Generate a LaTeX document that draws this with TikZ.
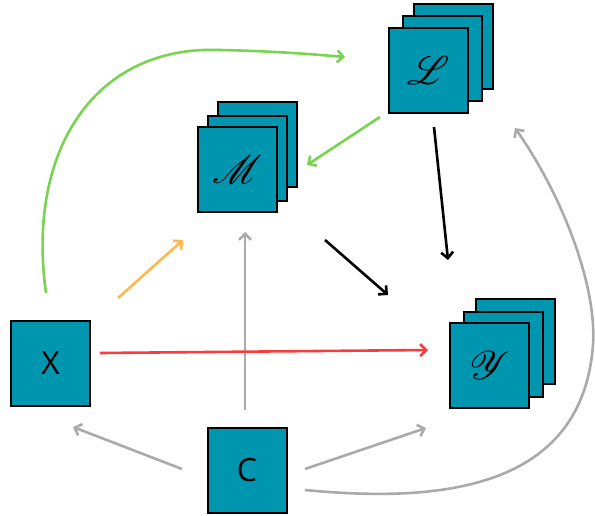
\documentclass[tikz,border=0pt]{standalone}
\usepackage{fontspec}
\setmainfont{Open Sans}
\usepackage{mathrsfs}
\usepackage{graphicx}
\usetikzlibrary{arrows.meta}
\definecolor{boxteal}{RGB}{0,150,176}
\definecolor{cgreen}{RGB}{120,212,80}
\definecolor{corange}{RGB}{255,184,80}
\definecolor{cred}{RGB}{250,60,60}
\definecolor{cgray}{RGB}{170,170,170}
\tikzset{
  sbox/.style={draw=black, line width=2pt, fill=boxteal, minimum width=79pt, minimum height=85pt, inner sep=0pt, font=\fontsize{32}{32}\selectfont},
  conn/.style={line width=2.6pt, -{Straight Barb[length=6pt,width=12pt]}},
}
\newcommand{\bigscr}[1]{\scalebox{1.6}{$\mathscr{#1}$}}
\begin{document}
\begin{tikzpicture}[x=1pt,y=-1pt]
\useasboundingbox (0,0) rectangle (595,516);
% L stack
\node[sbox] (L3) at (453,47) {};
\node[sbox] (L2) at (442,58.5) {};
\node[sbox] (L1) at (428,70.5) {\bigscr{L}};
% M stack
\node[sbox] (M3) at (257,144.5) {};
\node[sbox] (M2) at (247,158.5) {};
\node[sbox] (M1) at (237,169.5) {\bigscr{M}};
% Y stack
\node[sbox] (Y3) at (515,341.5) {};
\node[sbox] (Y2) at (503.5,354) {};
\node[sbox] (Y1) at (489.5,365.5) {\bigscr{Y}};
% X and C
\node[sbox] (X) at (50.5,363.5) {X};
\node[sbox] (C) at (247,470.5) {C};
% connector end points
\coordinate (xg) at (46,293);
\coordinate (lg) at (345,57);
\coordinate (lm1) at (380,117);
\coordinate (lm2) at (307,165);
\coordinate (xo) at (118,298);
\coordinate (mo) at (183,240);
\coordinate (cv1) at (245,410);
\coordinate (cv2) at (245,232);
\coordinate (my1) at (325,240);
\coordinate (my2) at (388,295);
\coordinate (ly1) at (434,127);
\coordinate (ly2) at (448,260);
\coordinate (xr) at (100,353);
\coordinate (yr) at (428,350);
\coordinate (cx1) at (182,469);
\coordinate (cx2) at (73,427);
\coordinate (cy1) at (305,469);
\coordinate (cy2) at (426,428);
\coordinate (cl1) at (305,490);
\coordinate (cl2) at (515,128);
% connectors
\draw[conn, cgreen] (xg) .. controls (26,150) and (95,45) .. (220,50) .. controls (270,51) and (310,54) .. (lg);
\draw[conn, cgreen] (lm1) -- (lm2);
\draw[conn, corange] (xo) -- (mo);
\draw[conn, cgray] (cv1) -- (cv2);
\draw[conn, black] (my1) -- (my2);
\draw[conn, black] (ly1) -- (ly2);
\draw[conn, cred] (xr) -- (yr);
\draw[conn, cgray] (cx1) -- (cx2);
\draw[conn, cgray] (cy1) -- (cy2);
\draw[conn, cgray] (cl1) .. controls (440,503) and (582,490) .. (593,345) .. controls (597,285) and (562,195) .. (cl2);
\end{tikzpicture}
\end{document}
